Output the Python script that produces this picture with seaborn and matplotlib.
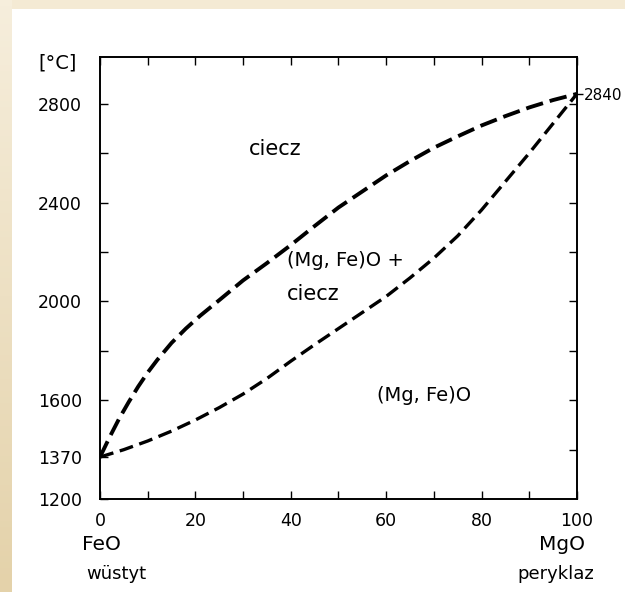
import numpy as np
import pandas as pd
import seaborn as sns
import matplotlib.pyplot as plt
from matplotlib.patches import Rectangle

# dane (FeO - MgO), % MgO
mgo_l = [0, 2, 4, 6, 8, 10, 12, 15, 18, 21, 25, 30, 35, 40, 45, 50, 55, 60, 65, 70, 75, 80, 85, 90, 95, 100]
liquidus = [1370, 1450, 1525, 1592, 1655, 1712, 1763, 1832, 1890, 1942, 2005, 2085, 2155, 2228, 2305,
            2380, 2445, 2510, 2568, 2622, 2668, 2712, 2750, 2785, 2815, 2840]
mgo_s = [0, 5, 10, 15, 20, 25, 30, 35, 40, 45, 50, 55, 60, 65, 70, 75, 80, 85, 90, 95, 100]
solidus = [1370, 1400, 1435, 1475, 1520, 1570, 1625, 1688, 1758, 1825, 1890, 1955, 2020, 2095,
           2175, 2265, 2370, 2485, 2600, 2720, 2840]

x_ticks = [0, 20, 40, 60, 80, 100]
y_ticks = [1200, 1370, 1600, 2000, 2400, 2800]

sns.set_style("ticks", {"axes.edgecolor": "black", "xtick.color": "black",
                        "ytick.color": "black", "text.color": "black"})
plt.rcParams['font.family'] = ['DejaVu Sans']
plt.rcParams['text.color'] = 'black'

df_l = pd.DataFrame({"MgO": mgo_l, "T": liquidus})
df_s = pd.DataFrame({"MgO": mgo_s, "T": solidus})

fig = plt.figure(figsize=(6.25, 5.92), dpi=100)
fig.patch.set_facecolor('#f4ead4')
# lewy pasek z gradientem
grad = np.linspace(0, 1, 100).reshape(-1, 1)
bg = fig.add_axes([0, 0, 12 / 625, 1])
bg.imshow(grad, aspect='auto', cmap=sns.blend_palette(['#f6eedc', '#e4d2aa'], as_cmap=True))
bg.axis('off')
fig.add_artist(Rectangle((12 / 625, 0), 1, 1 - 9 / 592, transform=fig.transFigure,
                         facecolor='white', edgecolor='none', zorder=0))

ax = fig.add_axes([0.16, 0.157, 0.763, 0.747])
ax.patch.set_alpha(0)
sns.lineplot(data=df_l, x="MgO", y="T", ax=ax, color='black', lw=2.8)
sns.lineplot(data=df_s, x="MgO", y="T", ax=ax, color='black', lw=2.4)
ax.lines[0].set_linestyle((0, (4.5, 1.8)))
ax.lines[1].set_linestyle((0, (4.2, 2.0)))

ax.set_xlim(0, 100)
ax.set_ylim(1200, 2990)
ax.set_xlabel("")
ax.set_ylabel("")
ax.set_xticks(x_ticks)
ax.set_xticks(range(10, 100, 20), minor=True)
ax.set_yticks(y_ticks)
ax.set_yticks([1800, 2200, 2600], minor=True)
ax.tick_params(which='both', direction='in', top=True, right=False, length=6,
               width=1, labelsize=12.5, colors='black')
ax.tick_params(axis='y', pad=13)
ax.tick_params(axis='x', pad=9)
ax.yaxis.get_major_ticks()[1].tick1line.set_visible(False)
for s in ax.spines.values():
    s.set_linewidth(1.4)

ax2 = ax.twinx()
ax2.set_ylim(1200, 2990)
ax2.set_yticks([2840])
ax2.set_yticks(range(1400, 2900, 200), minor=True)
ax2.tick_params(which='major', direction='out', length=4, width=1, labelsize=11, pad=1, colors='black')
ax2.tick_params(which='minor', direction='in', length=6, width=1, colors='black')
for s in ax2.spines.values():
    s.set_visible(False)

ax.text(-0.09, 0.985, "[°C]", transform=ax.transAxes, ha='center', va='center', fontsize=14)
ax.text(36.7, 2618, "ciecz", ha='center', va='center', fontsize=15)
ax.text(39.2, 2166, "(Mg, Fe)O +", ha='left', va='center', fontsize=14)
ax.text(39.2, 2030, "ciecz", ha='left', va='center', fontsize=15)
ax.text(58.1, 1620, "(Mg, Fe)O", ha='left', va='center', fontsize=14)

ax.text(0.004, -0.102, "FeO", transform=ax.transAxes, ha='center', va='center', fontsize=14.5)
ax.text(0.034, -0.17, "wüstyt", transform=ax.transAxes, ha='center', va='center', fontsize=13)
ax.text(0.969, -0.102, "MgO", transform=ax.transAxes, ha='center', va='center', fontsize=14.5)
ax.text(0.956, -0.17, "peryklaz", transform=ax.transAxes, ha='center', va='center', fontsize=13)

fig.savefig("out.png", dpi=100, facecolor=fig.get_facecolor())
